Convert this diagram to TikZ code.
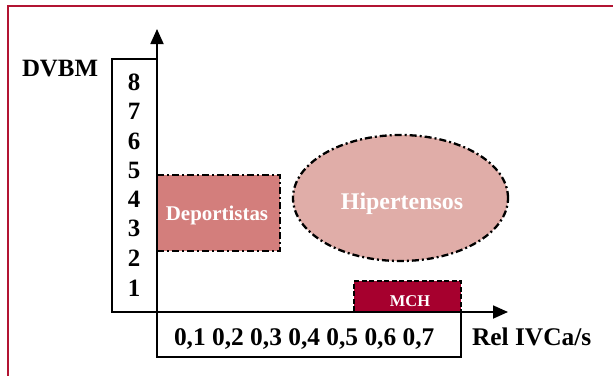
\documentclass[tikz,border=0pt]{standalone}
\usepackage{fontspec}
\setmainfont{Liberation Serif}
\usetikzlibrary{shapes.geometric,arrows.meta}
\definecolor{framered}{RGB}{178,20,50}
\definecolor{depfill}{RGB}{211,126,124}
\definecolor{hipfill}{RGB}{224,173,168}
\definecolor{mchfill}{RGB}{166,0,46}
\tikzset{
  lbl/.style={inner sep=0pt,outer sep=0pt,font=\fontsize{25.5}{25.5}\selectfont\bfseries},
  num/.style={lbl,anchor=base,font=\fontsize{25}{25}\selectfont\bfseries},
  plainbox/.style={draw=black,line width=1.1bp,inner sep=0pt,outer sep=0pt},
  axisline/.style={draw=black,line width=1.8bp,-{Triangle[width=13bp,length=15bp]}},
  dashdot/.style={line width=2.3bp,dash pattern=on 7bp off 3bp on 2bp off 3bp},
}
\begin{document}
\begin{tikzpicture}[x=1bp,y=-1bp]
\useasboundingbox (0,0) rectangle (613,376);
% frame
\coordinate (ftr) at (613,6);
\coordinate (ftl) at (8,6);
\coordinate (fbl) at (8,376);
\draw[framered,line width=2.4bp] (ftr) -- (ftl) -- (fbl);
% boxes
\node[plainbox,minimum width=45bp,minimum height=253bp] (ybox) at (134.5,185.5) {};
\node[plainbox,minimum width=304bp,minimum height=45bp] (xbox) at (309,334.5) {};
% regions
\node[draw=black,dashdot,fill=depfill,minimum width=123bp,minimum height=76bp,inner sep=0pt] (dep) at (218.5,213) {};
\node[draw=black,dashdot,fill=hipfill,ellipse,minimum width=215bp,minimum height=126bp,inner sep=0pt] (hip) at (400.5,198) {};
\node[draw=black,line width=2.2bp,dash pattern=on 5bp off 2.5bp,fill=mchfill,minimum width=107bp,minimum height=31bp,inner sep=0pt] (mch) at (407.5,296.5) {};
% axes
\coordinate (orig) at (157,312);
\coordinate (ytop) at (157,29);
\coordinate (xstart) at (112,312);
\coordinate (xend) at (508,312);
\draw[axisline] (orig) -- (ytop);
\draw[axisline] (xstart) -- (xend);
% labels
\node[num,anchor=base west] (dvbm) at (22,76) {DVBM};
\node[num] (n8) at (134,90) {8};
\node[num] (n7) at (134,119.5) {7};
\node[num] (n6) at (134,149) {6};
\node[num] (n5) at (134,178) {5};
\node[num] (n4) at (134,207) {4};
\node[num] (n3) at (134,236) {3};
\node[num] (n2) at (134,266) {2};
\node[num] (n1) at (134,296) {1};
\node[lbl,anchor=base west] (ticks) at (174,345) {0,1 0,2 0,3 0,4 0,5 0,6 0,7};
\node[lbl,anchor=base west] (xlab) at (472,345) {Rel IVCa/s};
\node[lbl,anchor=base,text=white,font=\fontsize{21}{21}\selectfont\bfseries] (deptxt) at (217,220) {Deportistas};
\node[lbl,anchor=base,text=white,font=\fontsize{24}{24}\selectfont\bfseries] (hiptxt) at (402,209) {Hipertensos};
\node[lbl,anchor=base,text=white,font=\fontsize{16.5}{16.5}\selectfont\bfseries] (mchtxt) at (410,306) {MCH};
\end{tikzpicture}
\end{document}
